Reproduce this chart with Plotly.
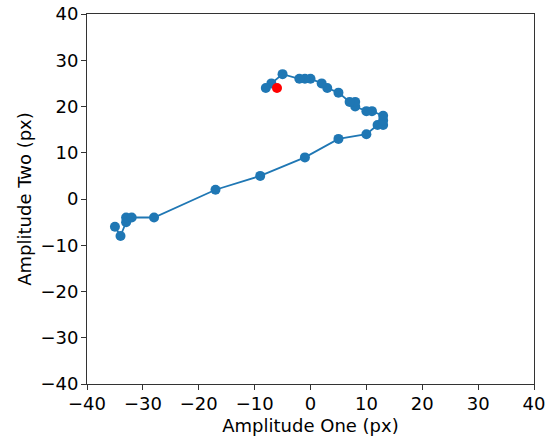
import plotly.graph_objects as go

x_vals = [-35, -34, -33, -33, -32, -28, -17, -9, -1, 5, 10, 12, 13, 13, 13, 11, 10, 8, 8, 7, 5, 3, 2, 0, -1, -2, -5, -7, -8]
y_vals = [-6, -8, -5, -4, -4, -4, 2, 5, 9, 13, 14, 16, 16, 17, 18, 19, 19, 20, 21, 21, 23, 24, 25, 26, 26, 26, 27, 25, 24]
current_x = [-6]
current_y = [24]

fig = go.Figure()
fig.add_trace(go.Scatter(x=x_vals, y=y_vals, mode="lines+markers",
                         line=dict(color="#1f77b4", width=1.8),
                         marker=dict(color="#1f77b4", size=10), showlegend=False))
fig.add_trace(go.Scatter(x=current_x, y=current_y, mode="markers",
                         marker=dict(color="#ff0000", size=10), showlegend=False))

font = dict(family="DejaVu Sans", size=18, color="black")
axis_common = dict(range=[-40, 40], dtick=10, showgrid=False, zeroline=False,
                   showline=True, linecolor="#333", linewidth=1, mirror=True,
                   ticks="outside", ticklen=5, tickcolor="#333", tickfont=font,
                   automargin=False, ticklabeloverflow="allow")
fig.update_xaxes(**axis_common, ticklabelstandoff=-2,
                 title=dict(text="Amplitude One (px)", font=font, standoff=6))
fig.update_yaxes(**axis_common, ticklabelstandoff=-1,
                 title=dict(text="Amplitude Two (px)", font=font, standoff=4))

fig.update_layout(width=545, height=439, margin=dict(l=87, r=11, t=14, b=55),
                  plot_bgcolor="white", paper_bgcolor="white")
fig.write_html("out.html", config={"displayModeBar": False, "responsive": False},
               post_script="document.documentElement.style.overflow='hidden';document.body.style.overflow='hidden';document.body.style.margin='0';document.body.style.padding='0';")
